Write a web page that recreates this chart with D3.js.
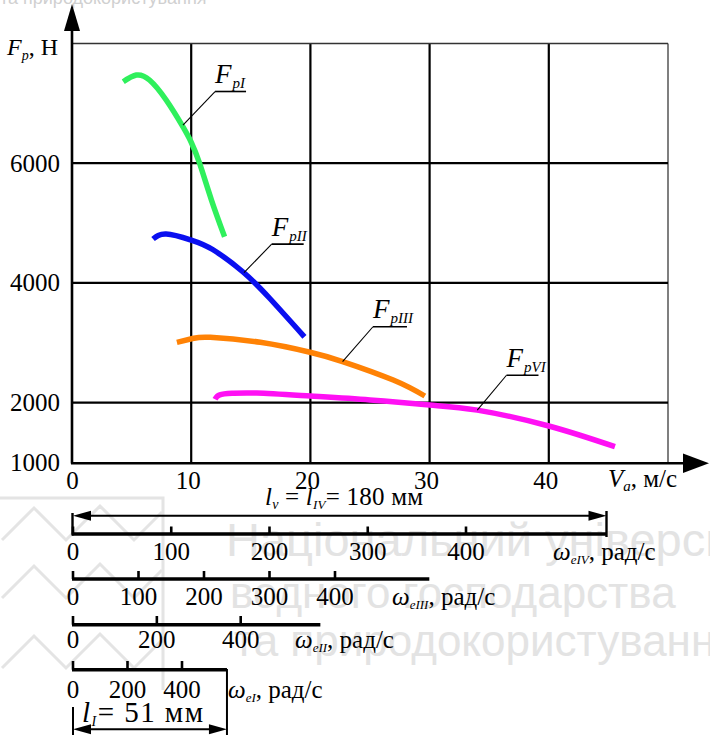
<!DOCTYPE html>
<html><head><meta charset="utf-8">
<script src="https://cdn.jsdelivr.net/npm/d3@7"></script>
<style>html,body{margin:0;padding:0;background:#fff;} svg{display:block;} text.s{font-family:"Liberation Serif","Times New Roman",Times,serif;}</style>
</head><body>
<svg id="chart" width="710" height="737"></svg>
<script>
// ---------- data ----------
const xTicks = [0, 10, 20, 30, 40];
const yTicks = [1000, 2000, 4000, 6000];
const yGrid = [2000, 4000, 6000, 8000];
const xGrid = [10, 20, 30, 40, 50];
// curves: [V_a (m/s), F_p (N)]
const FpI   = [[4.3,7362],[5.4,7473],[6.5,7390],[7.9,7056],[9.3,6610],[10.0,6350],[10.7,6000],[11.7,5385],[12.8,4772]];
const FpII  = [[6.8,4734],[7.9,4817],[10.0,4717],[11.8,4558],[14.35,4183],[16.6,3740],[19.5,3100]];
const FpIII = [[8.8,3008],[10.2,3075],[11.6,3092],[15.8,3008],[20.05,2838],[22.7,2687],[26.95,2378],[29.6,2111]];
const FpVI  = [[12.0,2056],[12.4,2130],[13.5,2156],[15.5,2160],[20.0,2110],[25.0,2045],[30.0,1960],[34.0,1875],[40.0,1610],[45.55,1264]];
const seriesSub = ["pI", "pII", "pIII", "pVI"];
// omega scales (rad/s)
const omegaIVTicks  = [0, 100, 200, 300, 400];
const omegaIIITicks = [0, 100, 200, 300, 400];
const omegaIITicks  = [0, 200, 400];
const omegaITicks   = [0, 200, 400];
const omegaMax = {IV: 543, III: 544, II: 590, I: 565};

// ---------- setup ----------
const svg = d3.select("#chart");
const sans = "'Liberation Sans',Arial,sans-serif";
const x = d3.scaleLinear().domain([0, 50]).range([72, 668]);
const y = d3.scaleLinear().domain([1000, 8000]).range([462.5, 43.5]);
function T(sel) { return sel.append("text").attr("class", "s"); }

// ---------- watermark ----------
const wm = svg.append("g").attr("fill", "none").attr("stroke", "#e4e4e4").attr("stroke-width", 3);
wm.append("path").attr("d", "M0,498 H163 V690");
wm.append("path").attr("d", "M2,540 L34,508 L66,540 L100,506 L134,540 L162,512");
wm.append("path").attr("d", "M2,598 L34,566 L66,598 L100,564 L134,598 L162,570");
wm.append("path").attr("d", "M2,668 L34,636 L66,668 L100,634 L134,668 L162,640");
const wmt = svg.append("g").attr("font-family", sans).attr("fill", "#e3e3e3").attr("font-size", 44);
wmt.append("text").attr("x", 226).attr("y", 556).attr("font-size", 47).text("Національний університет");
wmt.append("text").attr("x", 230).attr("y", 608).text("водного господарства");
wmt.append("text").attr("x", 234).attr("y", 656).text("та природокористування");
svg.append("text").attr("x", 0).attr("y", 4).attr("font-family", sans).attr("font-size", 18)
  .attr("fill", "#d0d0d0").text("та природокористування");

// ---------- grid ----------
const grid = svg.append("g");
grid.selectAll("line.v").data(xGrid).join("line")
  .attr("x1", d => x(d)).attr("x2", d => x(d)).attr("y1", y(8000)).attr("y2", y(1000))
  .attr("stroke", d => d === 50 ? "#555" : "#000").attr("stroke-width", d => d === 50 ? 1.5 : 2.2);
grid.selectAll("line.h").data(yGrid).join("line")
  .attr("x1", x(0)).attr("x2", x(50)).attr("y1", d => y(d)).attr("y2", d => y(d))
  .attr("stroke", d => d === 8000 ? "#333" : "#000").attr("stroke-width", d => d === 8000 ? 1.6 : 2.2);

// ---------- axes ----------
const ax = svg.append("g");
ax.append("line").attr("x1", x(0)).attr("x2", x(0)).attr("y1", y(1000) + 1).attr("y2", 28)
  .attr("stroke", "#000").attr("stroke-width", 2.6);
ax.append("line").attr("x1", x(0) - 1).attr("x2", 686).attr("y1", y(1000) + 0.8).attr("y2", y(1000) + 0.8)
  .attr("stroke", "#000").attr("stroke-width", 2.6);
ax.append("path").attr("d", `M${x(0)},4 L${x(0) - 8},31 L${x(0) + 8},31 Z`).attr("fill", "#000");
ax.append("path").attr("d", `M709,${y(1000) + 0.8} L683,${y(1000) - 9} L683,${y(1000) + 10.6} Z`).attr("fill", "#000");

const tickG = svg.append("g").attr("font-size", 25).attr("fill", "#000");
tickG.selectAll("text.y").data(yTicks).join("text").attr("class", "s")
  .attr("x", 60).attr("y", d => y(d) + 8.5).attr("text-anchor", "end").text(d => d);
tickG.selectAll("text.x").data(xTicks).join("text").attr("class", "s")
  .attr("x", d => x(d) - (d === 0 ? -0.5 : 3)).attr("y", 488.5).attr("text-anchor", "middle").text(d => d);

// axis titles
const yl = T(svg).attr("x", 7).attr("y", 55).attr("font-size", 24);
yl.append("tspan").attr("font-style", "italic").text("F");
yl.append("tspan").attr("font-style", "italic").attr("font-size", 14).attr("dy", 5).text("p");
yl.append("tspan").attr("dy", -5).text(", Н");

const xl = T(svg).attr("x", 608).attr("y", 487).attr("font-size", 25);
xl.append("tspan").attr("font-style", "italic").text("V");
xl.append("tspan").attr("font-style", "italic").attr("font-size", 15).attr("dy", 4).text("a");
xl.append("tspan").attr("dy", -4).text(", м/с");

// ---------- curves ----------
const line = d3.line().x(d => x(d[0])).y(d => y(d[1])).curve(d3.curveNatural);
const curves = [
  {data: FpI, color: "#2ff05c"},
  {data: FpII, color: "#0a0ff0"},
  {data: FpIII, color: "#ff8205"},
  {data: FpVI, color: "#ff10f4"}
];
svg.append("g").selectAll("path").data(curves).join("path")
  .attr("d", d => line(d.data)).attr("fill", "none").attr("stroke", d => d.color)
  .attr("stroke-width", 5.5).attr("stroke-linecap", "butt");

// ---------- curve labels ----------
// label text position (V, F) and leader anchor on the curve (V, F)
const labels = [
  {sub: seriesSub[0], tx: 12.0, tF: 7340, ax: 9.31, aF: 6638, w: 31},
  {sub: seriesSub[1], tx: 16.75, tF: 4790, ax: 14.43, aF: 4172, w: 32},
  {sub: seriesSub[2], tx: 25.25, tF: 3410, ax: 22.7, aF: 2687, w: 34},
  {sub: seriesSub[3], tx: 36.45, tF: 2600, ax: 34.0, aF: 1875, w: 32}
];
const lg = svg.append("g");
labels.forEach(l => {
  const tx = x(l.tx), ty = y(l.tF);
  const t = T(lg).attr("x", tx).attr("y", ty).attr("font-size", 27).attr("font-style", "italic");
  t.append("tspan").text("F");
  t.append("tspan").attr("font-size", 15).attr("dy", 5).attr("dx", 1).text(l.sub);
  lg.append("line").attr("x1", tx).attr("x2", tx + l.w).attr("y1", ty + 8.5).attr("y2", ty + 8.5)
    .attr("stroke", "#000").attr("stroke-width", 1.6);
  lg.append("line").attr("x1", tx).attr("y1", ty + 8.5).attr("x2", x(l.ax)).attr("y2", y(l.aF))
    .attr("stroke", "#000").attr("stroke-width", 1.1);
});

// ---------- omega scales ----------
function omegaScale(ticks, maxVal, r400, yLine, tickTop, labelY, name, nameX, nameY) {
  const s = d3.scaleLinear().domain([0, 400]).range([73, r400]);
  const g = svg.append("g");
  g.append("line").attr("x1", 72).attr("x2", s(maxVal)).attr("y1", yLine).attr("y2", yLine)
    .attr("stroke", "#000").attr("stroke-width", 3.4);
  g.selectAll("line.t").data(ticks).join("line")
    .attr("x1", d => s(d)).attr("x2", d => s(d)).attr("y1", tickTop).attr("y2", yLine)
    .attr("stroke", "#000").attr("stroke-width", 2.6);
  g.selectAll("text").data(ticks).join("text").attr("class", "s")
    .attr("x", d => s(d)).attr("y", labelY).attr("text-anchor", "middle")
    .attr("font-size", 25).text(d => d);
  const t = T(svg).attr("x", nameX).attr("y", nameY).attr("font-size", 25);
  t.append("tspan").attr("font-style", "italic").text("ω");
  t.append("tspan").attr("font-style", "italic").attr("font-size", 13).attr("dy", 4).text("e" + name);
  t.append("tspan").attr("dy", -4).text(", рад/с");
  return s;
}
const sIV = omegaScale(omegaIVTicks, omegaMax.IV, 466, 534, 526.5, 560, "IV", 553, 560);
const sIII = omegaScale(omegaIIITicks, omegaMax.III, 335, 579, 571, 605, "III", 392, 605);
const sII = omegaScale(omegaIITicks, omegaMax.II, 240.7, 624.7, 616, 648, "II", 295, 648);
const sI = omegaScale(omegaITicks, omegaMax.I, 182, 669.7, 661, 698, "I", 228, 698);

// ---------- dimension lines ----------
const dim = svg.append("g");
function dimLine(x1, x2, yy) {
  dim.append("line").attr("x1", x1 + 8).attr("x2", x2 - 8).attr("y1", yy).attr("y2", yy)
    .attr("stroke", "#000").attr("stroke-width", 2);
  dim.append("path").attr("d", `M${x1},${yy} L${x1 + 18},${yy - 5} L${x1 + 18},${yy + 5} Z`).attr("fill", "#000");
  dim.append("path").attr("d", `M${x2},${yy} L${x2 - 18},${yy - 5} L${x2 - 18},${yy + 5} Z`).attr("fill", "#000");
}
const xIVend = sIV(omegaMax.IV), xIend = sI(omegaMax.I);
dimLine(73, xIVend, 515.7);
dim.append("line").attr("x1", 72.5).attr("x2", 72.5).attr("y1", 513).attr("y2", 535.5).attr("stroke", "#000").attr("stroke-width", 2.4);
dim.append("line").attr("x1", xIVend).attr("x2", xIVend).attr("y1", 511).attr("y2", 537).attr("stroke", "#000").attr("stroke-width", 2.4);
dimLine(73, xIend, 729.3);
dim.append("line").attr("x1", 73).attr("x2", 73).attr("y1", 707).attr("y2", 735).attr("stroke", "#000").attr("stroke-width", 2);
dim.append("line").attr("x1", xIend).attr("x2", xIend).attr("y1", 669).attr("y2", 735).attr("stroke", "#000").attr("stroke-width", 2);

const dt = T(svg).attr("x", 265).attr("y", 505).attr("font-size", 25)
  .attr("textLength", 158).attr("lengthAdjust", "spacing");
dt.append("tspan").attr("font-style", "italic").text("l");
dt.append("tspan").attr("font-style", "italic").attr("font-size", 14).attr("dy", 4).text("v");
dt.append("tspan").attr("dy", -4).text(" = ");
dt.append("tspan").attr("font-style", "italic").text("l");
dt.append("tspan").attr("font-style", "italic").attr("font-size", 13).attr("dy", 4).text("IV");
dt.append("tspan").attr("dy", -4).text("= 180 мм");

const db = T(svg).attr("x", 82).attr("y", 722).attr("font-size", 29)
  .attr("textLength", 121).attr("lengthAdjust", "spacing");
db.append("tspan").attr("font-style", "italic").text("l");
db.append("tspan").attr("font-style", "italic").attr("font-size", 14).attr("dy", 4).text("I");
db.append("tspan").attr("dy", -4).text("= 51 мм");
</script>
</body></html>
